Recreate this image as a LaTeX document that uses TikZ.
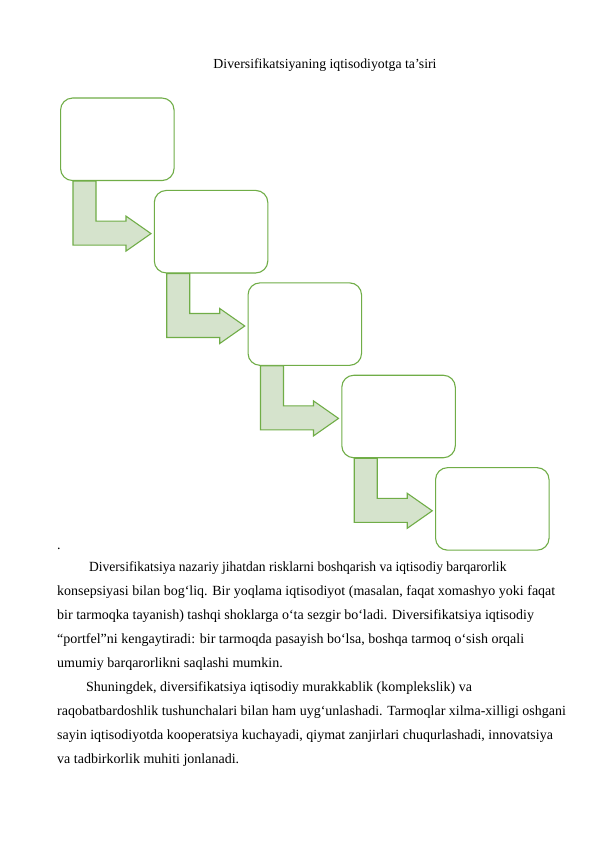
\documentclass[tikz,border=0pt]{standalone}
\usepackage{fontspec}
\setmainfont{Liberation Serif}
\usetikzlibrary{calc}
\definecolor{boxgreen}{HTML}{70AD47}
\definecolor{arrowfill}{HTML}{D5E3CC}
\begin{document}
\begin{tikzpicture}[x=1pt,y=-1pt,
  stepbox/.style={draw=boxgreen, line width=1.1pt, fill=white, rounded corners=12pt,
    minimum width=113.5pt, minimum height=82.5pt, inner sep=0pt, anchor=north west},
  bentarrow/.style={draw=boxgreen, line width=1.1pt, fill=arrowfill, line join=miter},
  bodytext/.style={anchor=base west, inner sep=0pt, font=\fontsize{14}{16}\selectfont},
  titletext/.style={anchor=base, inner sep=0pt, font=\fontsize{13.8}{16}\selectfont}]
\useasboundingbox (0,0) rectangle (595,842);
\fill[white] (0,0) rectangle (595,842);

\node[titletext] (title) at (325,69) {Diversifikatsiyaning iqtisodiyotga ta’siri};

\foreach \i in {0,...,4}{
  \node[stepbox] (b\i) at ({60+93.75*\i},{97.5+92.4*\i}) {};
}
\foreach \i in {0,...,3}{
  \draw[bentarrow]
    ($(b\i.south west)+(13,0)$) -- ($(b\i.south west)+(13,64)$) --
    ($(b\i.south west)+(66,64)$) -- ($(b\i.south west)+(66,70)$) --
    ($(b\i.south west)+(91,52.5)$) -- ($(b\i.south west)+(66,35)$) --
    ($(b\i.south west)+(66,40)$) -- ($(b\i.south west)+(36,40)$) --
    ($(b\i.south west)+(36,0)$) -- cycle;
}

\node[bodytext] (dot) at (57,549) {.};
\node[bodytext] (l1) at (89,571) {\scalebox{0.966}[1]{Diversifikatsiya nazariy jihatdan risklarni boshqarish va iqtisodiy barqarorlik}};
\node[bodytext] (l2) at (57,595) {konsepsiyasi bilan bog‘liq. Bir yoqlama iqtisodiyot (masalan, faqat xomashyo yoki faqat};
\node[bodytext] (l3) at (57,619) {bir tarmoqka tayanish) tashqi shoklarga o‘ta sezgir bo‘ladi. Diversifikatsiya iqtisodiy};
\node[bodytext] (l4) at (57,643) {“portfel”ni kengaytiradi: bir tarmoqda pasayish bo‘lsa, boshqa tarmoq o‘sish orqali};
\node[bodytext] (l5) at (57,667) {umumiy barqarorlikni saqlashi mumkin.};
\node[bodytext] (l6) at (86,691) {Shuningdek, diversifikatsiya iqtisodiy murakkablik (komplekslik) va};
\node[bodytext] (l7) at (57,715) {raqobatbardoshlik tushunchalari bilan ham uyg‘unlashadi. Tarmoqlar xilma-xilligi oshgani};
\node[bodytext] (l8) at (57,739) {sayin iqtisodiyotda kooperatsiya kuchayadi, qiymat zanjirlari chuqurlashadi, innovatsiya};
\node[bodytext] (l9) at (57,763) {va tadbirkorlik muhiti jonlanadi.};
\end{tikzpicture}
\end{document}
